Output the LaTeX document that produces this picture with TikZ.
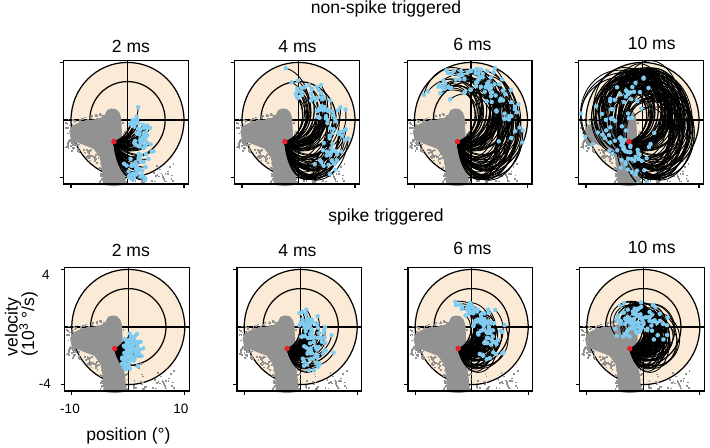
\documentclass[tikz,border=0pt]{standalone}
\usepackage{fontspec}
\setmainfont{Liberation Sans}
\definecolor{beige}{RGB}{251,235,214}
\definecolor{dotgrey}{RGB}{146,146,146}
\definecolor{skyblue}{RGB}{128,204,240}
\definecolor{dotred}{RGB}{232,32,42}
\tikzset{
  framed/.style={line width=0.75pt},
  ring/.style={line width=0.7pt},
  traj/.style={line width=0.5pt, black, line join=round},
  ticklab/.style={font=\fontsize{7.7}{9}\selectfont, inner sep=0pt},
  bigtext/.style={font=\fontsize{10}{12}\selectfont, inner sep=0pt},
}

% grey cloud of all eye positions
\newcommand{\greydot}[2]{\fill[dotgrey] (#1,#2) rectangle ++(0.035cm,0.035cm);}
\newcommand{\greycloud}{%
  \fill[dotgrey] (-3.6,0.7) -- (-2.8,0.8) -- (-2.0,0.75) -- (-1.4,0.5) -- (-1.1,0.1) -- (-1.0,-0.8) -- (-1.0,-1.8) -- (-0.8,-2.8) -- (-0.5,-3.7) -- (-0.4,-4.5) -- (-2.4,-4.6) -- (-4.4,-4.5) -- (-4.5,-3.5) -- (-4.9,-2.6) -- (-6,-2.0) -- (-8,-1.7) -- (-10,-1.4) -- (-10.3,-0.8) -- (-9.8,-0.4) -- (-8.2,-0.1) -- (-6.5,0.0) -- (-5,0.1) -- (-4.1,0.3) -- cycle;
  \pgfmathsetseed{11}
  \foreach \k in {1,...,60}{
    \pgfmathsetmacro\gx{-10.9+6.4*rnd}
    \pgfmathsetmacro\gy{-1.4-(\gx+10.3)*0.2-0.8*rnd}
    \greydot{\gx}{\gy}
  }
  \foreach \k in {1,...,25}{
    \pgfmathsetmacro\gx{-11+1.4*rnd}
    \pgfmathsetmacro\gy{-2+2*rnd}
    \greydot{\gx}{\gy}
  }
  \foreach \k in {1,...,30}{
    \pgfmathsetmacro\gx{-10+6*rnd}
    \pgfmathsetmacro\gy{-0.4+(\gx+10)*0.08+0.4*rnd}
    \greydot{\gx}{\gy}
  }
  \foreach \k in {1,...,20}{
    \pgfmathsetmacro\gx{-5.1+0.9*rnd}
    \pgfmathsetmacro\gy{-4.4+1.6*rnd}
    \greydot{\gx}{\gy}
  }
  \foreach \k in {1,...,20}{
    \pgfmathsetmacro\gx{-1.1+0.8*rnd}
    \pgfmathsetmacro\gy{-4.4+4.6*rnd}
    \greydot{\gx}{\gy}
  }
  \foreach \k in {1,...,40}{
    \pgfmathsetmacro\gx{0.8+7.4*rnd}
    \pgfmathsetmacro\gy{-4.35+1.9*rnd*rnd}
    \greydot{\gx}{\gy}
  }
}

\newcommand{\nonspikeparams}{%
  \pgfmathsetmacro\trS{185+100*rnd}%
  \pgfmathsetmacro\trA{min(12.6/(1.001-cos(\trS)),7.8/(1.001+cos(\trS)),6.5)*(0.55+0.35*rnd)}%
  \pgfmathsetmacro\trB{min(5.5/(1.001-sin(\trS)),2.8/(1.001+sin(\trS)),4)*(0.55+0.35*rnd)}%
  \pgfmathsetmacro\trW{26+16*rnd}%
  \pgfmathsetmacro\trL{-0.045*rnd}%
  \pgfmathsetmacro\trX{-2.4-\trA*cos(\trS)}%
  \pgfmathsetmacro\trY{-1.5-\trB*sin(\trS)}%
}
\newcommand{\spikeparams}{%
  \pgfmathsetmacro\trS{195+85*rnd^1.4}%
  \pgfmathsetmacro\trA{min(2.5+2.5*rnd,10.9/(1.001-cos(\trS)),4.6/(1.001+cos(\trS)))}%
  \pgfmathsetmacro\trB{min(1.5+1.2*rnd,3.6/(1.001-sin(\trS)))}%
  \pgfmathsetmacro\trW{16+18*rnd}%
  \pgfmathsetmacro\trL{0.02+0.08*rnd}%
  \pgfmathsetmacro\trX{-2.4-\trA*cos(\trS)}%
  \pgfmathsetmacro\trY{-1.5-\trB*sin(\trS)}%
}

\newcommand{\phasepanel}[4]{%
\begin{scope}[shift={(#1,#2)}, x=0.113cm, y=0.288cm]
  \fill[beige] (0,0) ellipse[x radius=10, y radius=4];
  \draw[ring] (0,0) ellipse[x radius=10, y radius=4];
  \draw[ring] (0,0) ellipse[x radius=6.67, y radius=2.67];
  \draw[framed] (-11.3,0) -- (10.8,0);
  \draw[framed] (0,-4.45) -- (0,4.15);
  \greycloud
  \begin{scope}
  \clip (-11.3,-4.45) rectangle (10.8,4.15);
  \pgfmathsetmacro\ns{int(6+5*#3)}
  \pgfmathsetseed{#4}
  \foreach \i in {1,...,90}{
    \trajparams
    \draw[traj] plot[domain=0:#3, samples=\ns, variable=\tm] ({\trX+exp(-\trL*\tm)*\trA*cos(\trS+\trW*\tm)}, {\trY+exp(-\trL*\tm)*\trB*sin(\trS+\trW*\tm)});
  }
  \pgfmathsetseed{#4}
  \foreach \i in {1,...,90}{
    \trajparams
    \fill[skyblue] ({\trX+exp(-\trL*#3)*\trA*cos(\trS+\trW*#3)}, {\trY+exp(-\trL*#3)*\trB*sin(\trS+\trW*#3)}) circle[radius=0.045cm];
  }
  \end{scope}
  \fill[dotred] (-2.4,-1.5) circle[radius=0.055cm];
  \draw[framed] (-11.3,-4.45) rectangle (10.8,4.15);
  \foreach \vv in {-4,4} \draw[framed] (-11.3,\vv) -- ++(-0.07cm,0);
  \foreach \pp in {-10,10} \draw[framed] (\pp,-4.45) -- ++(0,-0.07cm);
\end{scope}}

\begin{document}
\begin{tikzpicture}[x=0.02cm, y=-0.02cm]
\useasboundingbox (0,0) rectangle (710,447);

\let\trajparams\nonspikeparams
\phasepanel{127.5}{120}{2}{41}
\phasepanel{298.5}{120}{4}{41}
\phasepanel{471}{120}{6}{41}
\phasepanel{642.5}{120}{10}{41}

\let\trajparams\spikeparams
\phasepanel{128.3}{327}{2}{57}
\phasepanel{300.7}{327}{4}{57}
\phasepanel{471.7}{327}{6}{57}
\phasepanel{643.3}{327}{10}{57}

\node[bigtext, anchor=base] (toptitle) at (386,13.5) {non-spike triggered};
\node[bigtext, anchor=base] (bottomtitle) at (386,221) {spike triggered};
\foreach \xx/\yy/\lab [count=\n] in {131/52/2 ms, 297.5/52/4 ms, 472.5/50/6 ms, 651.7/49/10 ms}
  \node[bigtext, anchor=base] (toptime\n) at (\xx,\yy) {\lab};
\foreach \xx/\yy/\lab [count=\n] in {130.8/256/2 ms, 297.5/256/4 ms, 472.5/254/6 ms, 651.7/253/10 ms}
  \node[bigtext, anchor=base] (bottime\n) at (\xx,\yy) {\lab};

\node[ticklab] (vtop) at (46,275) {4};
\node[ticklab] (vbot) at (45,384) {-4};
\node[ticklab] (pleft) at (70,409) {-10};
\node[ticklab] (pright) at (181,409) {10};
\node[bigtext, anchor=base] (poslabel) at (128.5,440) {position (°)};
\node[bigtext, rotate=90] (vellabel) at (13,327) {velocity};
\node[bigtext, rotate=90] (unitlabel) at (28.5,324) {(10\textsuperscript{3} °/s)};
\end{tikzpicture}
\end{document}
